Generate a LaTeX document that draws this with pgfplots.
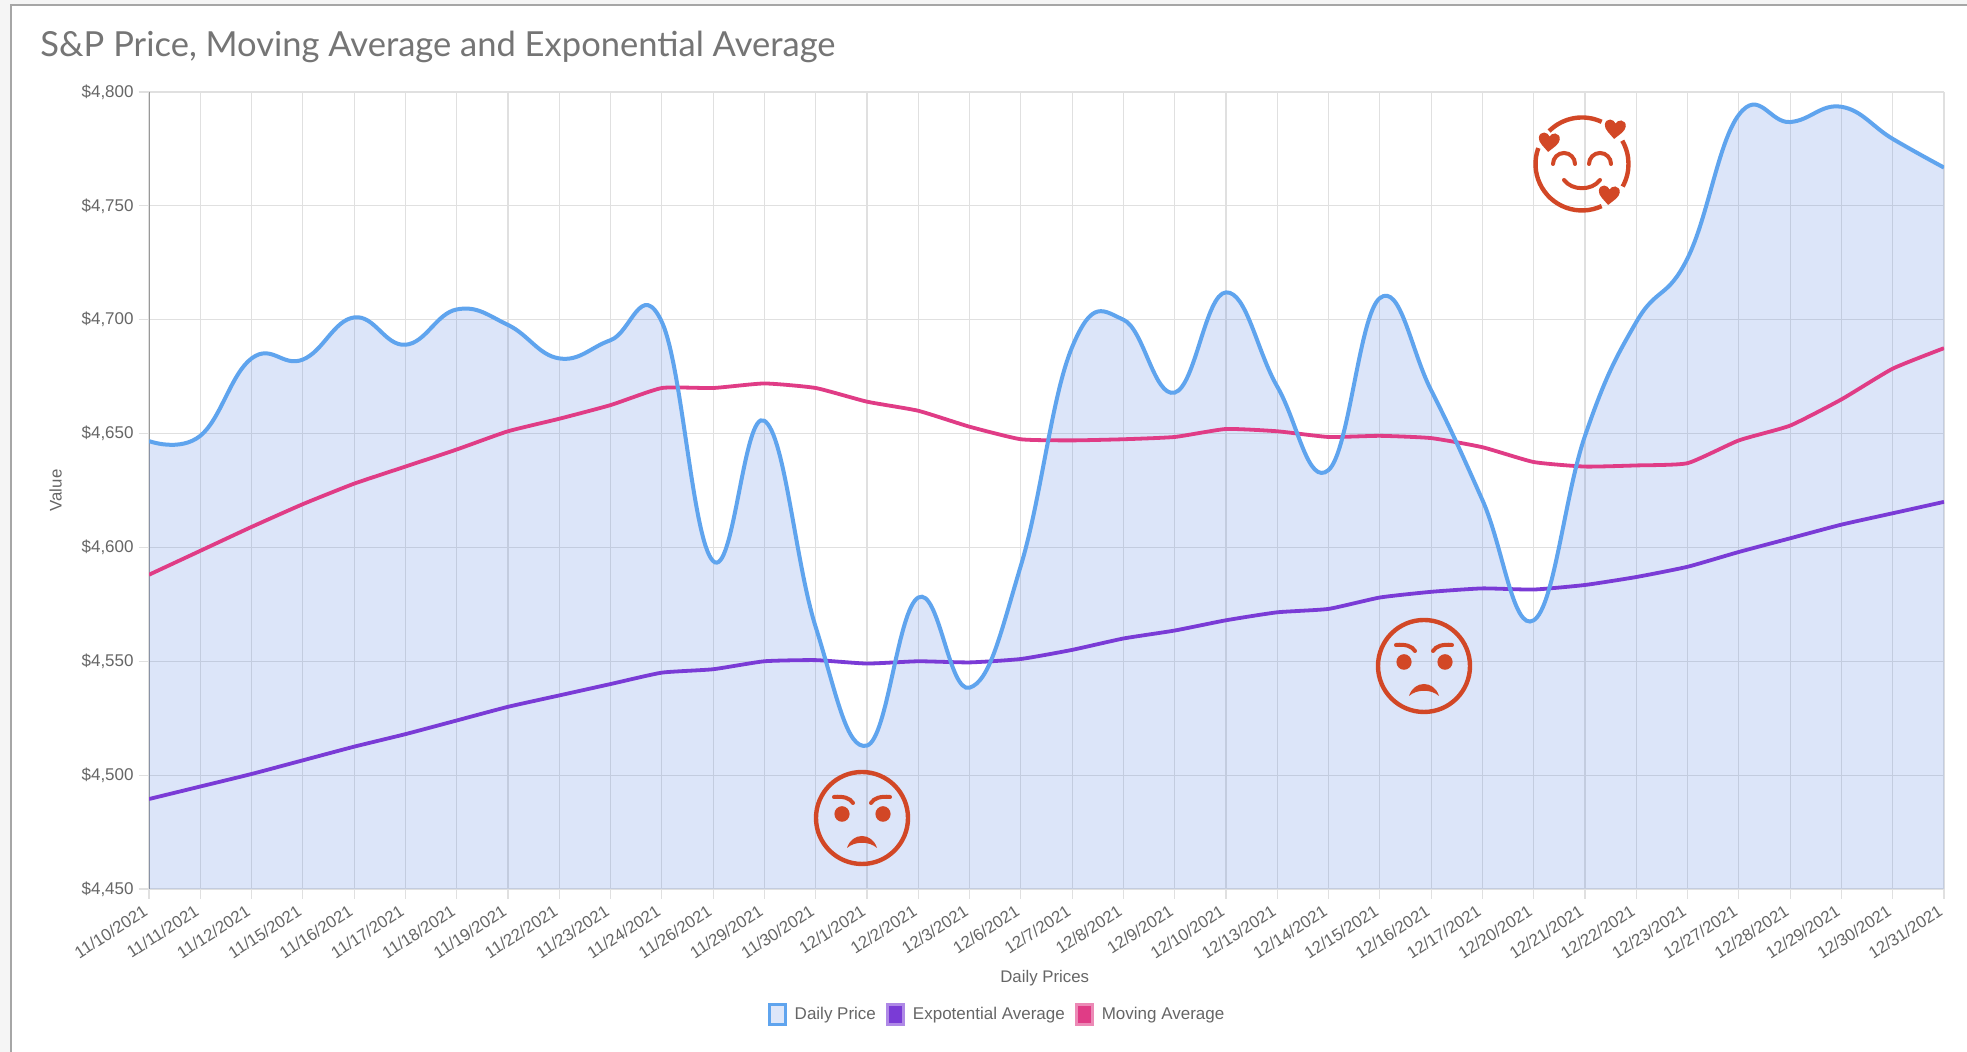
\documentclass[border=0pt]{standalone}
\usepackage{pgfplots}
\pgfplotsset{compat=1.18}
\usepackage{pgfplotstable}
\usepackage{fontspec}
\setmainfont{Liberation Sans}
\newfontfamily\lato{Lato}
\definecolor{bl}{HTML}{5FA4EE}
\definecolor{blfill}{RGB}{66,116,222}
\definecolor{pu}{HTML}{7A3BD6}
\definecolor{pk}{HTML}{E03C86}
\definecolor{tk}{HTML}{666666}
\definecolor{ttl}{HTML}{757575}
\definecolor{emo}{HTML}{D24726}
\pgfplotstableread{
x price expo mov
0 4646.7 4489.5 4588
1 4649 4495 4598.5
2 4683 4500.5 4609
3 4682.5 4506.5 4619
4 4701 4512.5 4628
5 4689 4518 4635.5
6 4704.5 4524 4643
7 4697.7 4530 4651
8 4683 4535 4656.5
9 4691 4540 4662.5
10 4699 4545 4670
11 4594 4546.5 4670
12 4655.6 4550 4672
13 4565 4550.5 4670
14 4513 4549 4664
15 4578 4550 4660
16 4538.4 4549.5 4653
17 4592 4551 4647.5
18 4688 4555 4647
19 4700 4560 4647.5
20 4668 4563.5 4648.5
21 4712 4568 4652
22 4670.6 4571.5 4651
23 4634 4573 4648.5
24 4709.5 4578 4649
25 4669 4580.5 4648
26 4620.8 4582 4644
27 4568 4581.5 4637.5
28 4649 4583.5 4635.5
29 4699 4587 4636
30 4727 4591.5 4637
31 4790 4598 4647
32 4786.8 4604 4653.5
33 4793.5 4610 4665
34 4779.4 4615 4678.5
35 4766.8 4620 4687.5
}\datatable
\newcommand{\heart}[3]{% dx, dy, rotation
  \fill[emo,shift={(#1,#2)},rotate=#3,x=0.5pt,y=0.5pt]
    (0,-10) .. controls (-5,-5) and (-10.5,-1.5) .. (-10.5,3.5)
    .. controls (-10.5,7) and (-8,9) .. (-5.5,9)
    .. controls (-3,9) and (-1,7.5) .. (0,5.5)
    .. controls (1,7.5) and (3,9) .. (5.5,9)
    .. controls (8,9) and (10.5,7) .. (10.5,3.5)
    .. controls (10.5,-1.5) and (5,-5) .. (0,-10) -- cycle;}
\newcommand{\angry}[2]{%
  \begin{scope}[x=0.5pt,y=0.5pt,shift={(#1,#2)}]
    \draw[emo,line width=2.2pt] (0,0) circle[radius=23pt];
    \fill[emo] (-20,4) ellipse[x radius=3.8pt,y radius=3.9pt];
    \fill[emo] (21,4) ellipse[x radius=3.8pt,y radius=3.9pt];
    \draw[emo,line width=2pt,line cap=round] (-28,21) .. controls (-19,22) and (-12,20) .. (-9,15);
    \draw[emo,line width=2pt,line cap=round] (28,21) .. controls (19,22) and (12,20) .. (9,15);
    \fill[emo] (-15,-30) .. controls (-10,-14) and (10,-14) .. (15,-30) .. controls (7,-23) and (-7,-23) .. cycle;
  \end{scope}}
\begin{document}
\begin{tikzpicture}
\begin{scope}[x=0.5pt,y=0.5pt]
\path[use as bounding box,fill=white] (0,0) rectangle (1967,1052);
\fill[black!4] (0,0) rectangle (11,1052);
\fill[black!4] (0,1047) rectangle (1967,1052);
\draw[black!35,line width=1pt] (11,0) -- (11,1047) -- (1967,1047);
\node[anchor=west,text=ttl,font=\lato\fontsize{17.26pt}{20pt}\selectfont,inner sep=0pt] at (40,1005) {S\&P Price, Moving Average and Exponential Average};
\end{scope}
\begin{axis}[
  at={(74.5pt,81.5pt)},anchor=south west,
  scale only axis,width=897.5pt,height=398.5pt,
  xmin=0,xmax=35,ymin=4450,ymax=4800,
  xtick={0,...,35},
  xticklabels={11/10/2021,11/11/2021,11/12/2021,11/15/2021,11/16/2021,11/17/2021,11/18/2021,11/19/2021,11/22/2021,11/23/2021,11/24/2021,11/26/2021,11/29/2021,11/30/2021,12/1/2021,12/2/2021,12/3/2021,12/6/2021,12/7/2021,12/8/2021,12/9/2021,12/10/2021,12/13/2021,12/14/2021,12/15/2021,12/16/2021,12/17/2021,12/20/2021,12/21/2021,12/22/2021,12/23/2021,12/27/2021,12/28/2021,12/29/2021,12/30/2021,12/31/2021},
  ytick={4450,4500,4550,4600,4650,4700,4750,4800},
  yticklabels={{\$4,450},{\$4,500},{\$4,550},{\$4,600},{\$4,650},{\$4,700},{\$4,750},{\$4,800}},
  grid=major,
  major grid style={black!12,line width=0.6pt},
  tick align=outside,major tick length=5pt,
  tick style={black!12,line width=0.6pt},
  xtick pos=bottom,ytick pos=left,
  axis line style={draw=none},
  x tick label style={rotate=33,anchor=north east,font=\fontsize{8.4pt}{9pt}\selectfont,text=tk,inner sep=1pt,xshift=-3pt,yshift=1pt},
  y tick label style={font=\fontsize{8.5pt}{10pt}\selectfont,text=tk,inner sep=1.5pt,xshift=-1pt},
  xlabel={Daily Prices},ylabel={Value},
  every axis x label/.style={at={(axis description cs:0.499,-0.1115)},anchor=center,font=\fontsize{8.4pt}{10pt}\selectfont,text=tk},
  every axis y label/.style={at={(axis description cs:-0.052,0.5)},anchor=center,rotate=90,font=\fontsize{8.4pt}{10pt}\selectfont,text=tk},
  legend columns=3,
  legend style={draw=none,fill=none,at={(axis description cs:0.473,-0.158)},anchor=center,
    font=\fontsize{8.5pt}{10pt}\selectfont,text=tk,inner sep=0pt,
    /tikz/every even column/.style={column sep=3pt},
    /tikz/column sep=2pt},
  legend image code/.code={\draw[#1,line width=1.5pt] (0pt,-5pt) rectangle (8pt,5pt);},
]
\addlegendimage{draw=bl,fill=blfill!18}
\addlegendentry{Daily Price}
\addlegendimage{draw=pu!60,fill=pu}
\addlegendentry{Expotential Average}
\addlegendimage{draw=pk!60,fill=pk}
\addlegendentry{Moving Average}
\draw[black!40,line width=0.7pt] (axis cs:0,4450) -- (axis cs:0,4800);
\addplot[draw=none,fill=blfill,fill opacity=0.18,smooth,tension=0.72,forget plot] table[x=x,y=price] {\datatable} \closedcycle;
\addplot[draw=pk,line width=1.9pt,smooth,tension=0.3,forget plot] table[x=x,y=mov] {\datatable};
\addplot[draw=pu,line width=1.9pt,smooth,tension=0.3,forget plot] table[x=x,y=expo] {\datatable};
\addplot[draw=bl,line width=2pt,smooth,tension=0.72,forget plot] table[x=x,y=price] {\datatable};
\end{axis}
\angry{862}{234}
\angry{1424}{386}
\begin{scope}[x=0.5pt,y=0.5pt,shift={(1582,888)}]
  \draw[emo,line width=2.2pt] (65:46.5) arc[start angle=65,end angle=135,radius=23.25pt];
  \draw[emo,line width=2.2pt] (-29:46.5) arc[start angle=-29,end angle=30,radius=23.25pt];
  \draw[emo,line width=2.2pt] (160:46.5) arc[start angle=160,end angle=295,radius=23.25pt];
  \draw[emo,line width=2pt,line cap=round] (-29,0) arc[start angle=180,end angle=0,radius=5.5pt];
  \draw[emo,line width=2pt,line cap=round] (7,0) arc[start angle=180,end angle=0,radius=5.5pt];
  \draw[emo,line width=2pt,line cap=round] (-18,-16) .. controls (-10,-27) and (10,-27) .. (18,-16);
  \heart{-33}{22}{-5}
  \heart{33}{35}{-5}
  \heart{27}{-31}{-5}
\end{scope}
\end{tikzpicture}
\end{document}
